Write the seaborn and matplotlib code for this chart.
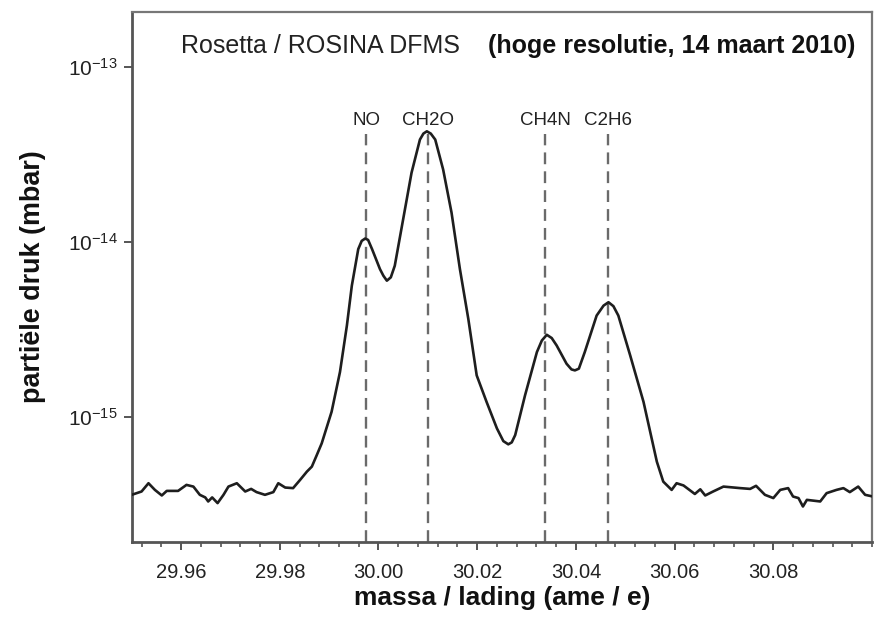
import numpy as np
import pandas as pd
import matplotlib
matplotlib.use("Agg")
import matplotlib.pyplot as plt
import matplotlib.ticker as mticker
import seaborn as sns

# ---- data: mass/charge (amu/e) and partial pressure (units of 1e-15 mbar)
mass = [29.9500, 29.9520, 29.9534, 29.9547, 29.9561, 29.9571, 29.9594, 29.9611,
        29.9625, 29.9638, 29.9649, 29.9655, 29.9663, 29.9674, 29.9686, 29.9696,
        29.9713, 29.9730, 29.9742, 29.9753, 29.9770, 29.9787, 29.9797, 29.9811,
        29.9827, 29.9841, 29.9855, 29.9865, 29.9875, 29.9885, 29.9905, 29.9922,
        29.9936, 29.9946, 29.9959, 29.9966, 29.9973, 29.9979, 29.9987, 30.0003,
        30.0010, 30.0017, 30.0025, 30.0033, 30.0050, 30.0067, 30.0084, 30.0091,
        30.0098, 30.0106, 30.0115, 30.0131, 30.0148, 30.0165, 30.0182, 30.0199,
        30.0219, 30.0240, 30.0253, 30.0263, 30.0270, 30.0277, 30.0297, 30.0321,
        30.0331, 30.0341, 30.0351, 30.0361, 30.0381, 30.0391, 30.0398, 30.0406,
        30.0418, 30.0442, 30.0456, 30.0466, 30.0476, 30.0486, 30.0510, 30.0537,
        30.0564, 30.0577, 30.0594, 30.0604, 30.0618, 30.0641, 30.0652, 30.0662,
        30.0678, 30.0699, 30.0733, 30.0753, 30.0765, 30.0783, 30.0800, 30.0814,
        30.0830, 30.0840, 30.0851, 30.0860, 30.0868, 30.0895, 30.0908, 30.0928,
        30.0942, 30.0955, 30.0972, 30.0986, 30.1002]
pressure_e15 = [0.358, 0.374, 0.417, 0.382, 0.355, 0.377, 0.377, 0.408,
                0.399, 0.358, 0.346, 0.328, 0.346, 0.321, 0.358, 0.399,
                0.417, 0.374, 0.387, 0.371, 0.358, 0.371, 0.417, 0.394,
                0.391, 0.435, 0.486, 0.519, 0.604, 0.705, 1.068, 1.804,
                3.324, 5.616, 9.09, 10.13, 10.45, 10.26, 9.09, 6.99,
                6.40, 6.00, 6.27, 7.30, 13.47, 24.85, 38.45, 41.6,
                42.87, 41.6, 38.45, 25.94, 14.71, 6.99, 3.63, 1.725,
                1.217, 0.858, 0.726, 0.696, 0.714, 0.786, 1.328, 2.345,
                2.73, 2.943, 2.82, 2.557, 2.012, 1.866, 1.842, 1.884,
                2.345, 3.790, 4.32, 4.518, 4.29, 3.790, 2.243, 1.217,
                0.554, 0.426, 0.382, 0.417, 0.405, 0.362, 0.385, 0.355,
                0.374, 0.399, 0.391, 0.387, 0.403, 0.358, 0.343, 0.382,
                0.391, 0.350, 0.343, 0.307, 0.335, 0.328, 0.366, 0.382,
                0.391, 0.371, 0.399, 0.358, 0.350]

species = ["NO", "CH2O", "CH4N", "C2H6"]
species_mass = [29.9975, 30.0100, 30.0338, 30.0465]

x_ticks = [29.96, 29.98, 30.00, 30.02, 30.04, 30.06, 30.08]
y_ticks = [1e-15, 1e-14, 1e-13]
y_tick_labels = [r"$\mathregular{10^{-15}}$", r"$\mathregular{10^{-14}}$", r"$\mathregular{10^{-13}}$"]

title_left = "Rosetta / ROSINA DFMS"
title_right = "(hoge resolutie, 14 maart 2010)"
xlabel = "massa / lading (ame / e)"
ylabel = "partiële druk (mbar)"

df = pd.DataFrame({"mass": mass, "p": np.array(pressure_e15) * 1e-15})

sns.set_theme(style="ticks")
plt.rcParams["font.family"] = ["Liberation Sans", "DejaVu Sans"]
plt.rcParams["mathtext.fontset"] = "custom"
plt.rcParams["mathtext.rm"] = "Liberation Sans"

fig = plt.figure(figsize=(8.78, 6.18), dpi=100)
ax = fig.add_axes([0.150, 0.1235, 0.8432, 0.857])

for m in species_mass:
    ax.axvline(m, ymin=0, ymax=0.77, color="#6a6a6a", lw=1.7, ls=(0, (5, 3)), zorder=1)

sns.lineplot(data=df, x="mass", y="p", ax=ax, color="#1e1e1e", lw=1.9,
             estimator=None, sort=False, zorder=3)

ax.set_yscale("log")
ax.set_xlim(29.95, 30.10)
ax.set_ylim(10 ** -15.714, 10 ** -12.686)

ax.set_xticks(x_ticks)
ax.set_xticklabels([f"{t:.2f}" for t in x_ticks])
ax.xaxis.set_minor_locator(mticker.MultipleLocator(0.004))
ax.set_yticks(y_ticks)
ax.set_yticklabels(y_tick_labels)
ax.yaxis.set_minor_locator(mticker.NullLocator())

ax.tick_params(axis="both", which="major", direction="out", length=6, width=1.4,
               color="#555555", labelcolor="#222222")
ax.tick_params(axis="x", which="major", labelsize=14.5, pad=9)
ax.tick_params(axis="y", which="major", labelsize=15, pad=4)
ax.tick_params(axis="x", which="minor", direction="out", length=3.5, width=1.2,
               color="#555555")

for side in ["left", "bottom"]:
    ax.spines[side].set_color("#555555")
    ax.spines[side].set_linewidth(2.0)
for side in ["top", "right"]:
    ax.spines[side].set_visible(True)
    ax.spines[side].set_color("#777777")
    ax.spines[side].set_linewidth(1.6)

ax.set_xlabel(xlabel, fontsize=19, fontweight="bold", color="#111111", labelpad=3)
ax.set_ylabel(ylabel, fontsize=19.4, fontweight="bold", color="#111111", labelpad=16)

ax.text(0.066, 0.935, title_left, transform=ax.transAxes, fontsize=18,
        color="#222222", ha="left", va="center")
ax.text(0.481, 0.935, title_right, transform=ax.transAxes, fontsize=18,
        fontweight="bold", color="#111111", ha="left", va="center")

for name, m in zip(species, species_mass):
    ax.text(m, 0.795, name, transform=ax.get_xaxis_transform(), fontsize=13.5,
            color="#222222", ha="center", va="center")

fig.savefig("out.png", dpi=100)
